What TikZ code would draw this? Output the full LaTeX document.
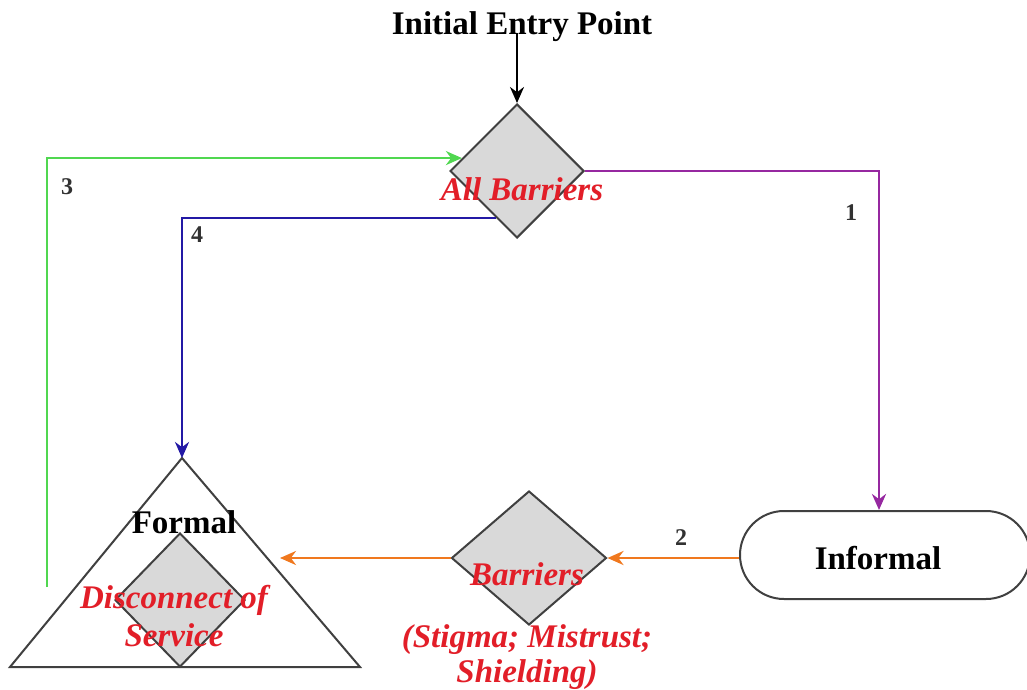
\documentclass[tikz,border=0pt]{standalone}
\usepackage{fontspec}
\setmainfont{Liberation Serif}
\usetikzlibrary{shapes.geometric,arrows.meta,calc}

\definecolor{barred}{RGB}{226,30,40}
\definecolor{boxgray}{RGB}{217,217,217}
\definecolor{pathpurple}{RGB}{150,40,160}
\definecolor{pathgreen}{RGB}{80,215,80}
\definecolor{pathblue}{RGB}{35,25,165}
\definecolor{pathorange}{RGB}{240,120,30}
\definecolor{numgray}{RGB}{50,50,50}

\tikzset{
  decision/.style={diamond, draw=black!75, line width=2pt, fill=boxgray, inner sep=0pt},
  boldlabel/.style={font=\fontsize{33}{36}\selectfont\bfseries, text=black},
  redlabel/.style={font=\fontsize{33}{36}\selectfont\bfseries\itshape, text=barred, align=center},
  numlabel/.style={font=\fontsize{24}{26}\selectfont\bfseries, text=numgray},
  flow/.style={line width=2.8pt, -{Stealth[length=16pt,width=14pt]}},
}

\begin{document}
\begin{tikzpicture}[x=1pt, y=-1pt]
\useasboundingbox[fill=white] (0,0) rectangle (1027,690);

% entry label and top decision
\node[boldlabel] (title) at (522,27) {Initial Entry Point};
\node[decision, minimum width=134pt, minimum height=134pt] (ab) at (517,171) {};
\node[redlabel] (abtext) at (522,189) {All Barriers};

% informal path
\node[draw=black!75, line width=2pt, rounded corners=44pt, minimum width=290pt, minimum height=88pt, inner sep=0pt] (inf) at (885,555) {};
\node[boldlabel] (inftext) at (878,558) {Informal};

% middle decision
\node[decision, minimum width=155pt, minimum height=134pt] (bar) at (529,558) {};
\node[redlabel] (bartext) at (527,574) {Barriers};
\node[redlabel, font=\fontsize{33}{35}\selectfont\bfseries\itshape] (bardesc) at (527,657) {(Stigma; Mistrust;\\Shielding)};

% formal triangle with inner decision
\coordinate (fapex) at (182,458);
\coordinate (fleft) at (10,667);
\coordinate (fright) at (360,667);
\draw[black!75, line width=2pt, fill=white, line join=miter] (fapex) -- (fright) -- (fleft) -- cycle;
\node[decision, minimum width=130pt, minimum height=134pt] (dis) at (180,600) {};
\node[boldlabel] (formal) at (184,522) {Formal};
\node[redlabel, font=\fontsize{33}{38}\selectfont\bfseries\itshape] (distext) at (174,616) {Disconnect of\\Service};

% connectors
\coordinate (entry) at (517,33);
\draw[flow, black, line width=2.2pt] (entry) -- (ab.north);

\draw[flow, pathpurple] (ab.east) -| ([xshift=-6pt]inf.north);
\node[numlabel] (n1) at (851,213) {1};

\coordinate (forin) at (280,558);
\draw[flow, pathorange] (inf.west |- bar.east) -- (bar.east);
\draw[flow, pathorange] (bar.west) -- (forin);
\node[numlabel] (n2) at (681,538) {2};

\coordinate (gstart) at (47,587);
\draw[flow, pathgreen] (gstart) |- ($(ab.west)!0.19!(ab.north)$);
\node[numlabel] (n3) at (67,187) {3};

\draw[flow, pathblue] ($(ab.west)!0.69!(ab.south)$) -| (fapex);
\node[numlabel] (n4) at (197,235) {4};
\end{tikzpicture}
\end{document}
